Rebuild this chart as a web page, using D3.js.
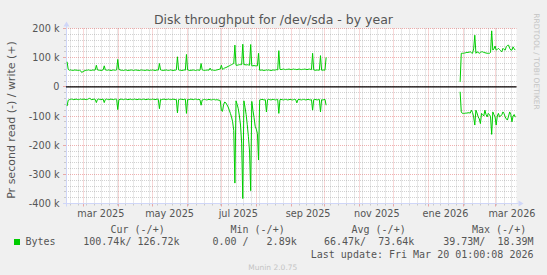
<!DOCTYPE html>
<html>
<head>
<meta charset="utf-8">
<script src="https://cdn.jsdelivr.net/npm/d3@7"></script>
<style>
  html, body { margin: 0; padding: 0; background: #f0f0f0; }
  svg { display: block; }
  text { font-family: "DejaVu Sans", sans-serif; fill: #555; }
  .mono { font-family: "DejaVu Sans Mono", monospace; font-size: 10px; white-space: pre; }
</style>
</head>
<body>
<svg id="chart" width="547" height="275"></svg>
<script>
// 400 day window ending at the last update
const graphStart = "2025-02-13T01:00:08Z";
const graphEnd = "2026-03-20T01:00:08Z";

// daily averages, k bytes per second (read is drawn below zero)
const block1Start = "2025-02-14";
const write1 = [86, 60,
  57, 58, 57, 56, 57, 58, 57, 57, 56, 57, 55,
  49,
  52, 54, 56, 57, 57, 58, 57, 56, 57, 58, 57, 58,
  74,
  58, 57, 57, 56, 57, 58,
  72,
  58, 57, 57, 58, 57, 56, 57, 58, 57, 57, 58,
  94,
  60, 58, 57, 57, 56, 57, 58, 57, 56, 57, 57, 58, 57, 56, 57, 58, 57, 57, 56, 57, 58, 57, 57, 56, 57, 58, 57, 56, 57, 57, 58, 57, 56, 57, 58, 57,
  80,
  58, 57, 56, 57, 57, 58, 57, 56, 57, 58, 57, 56, 57, 57, 58,
  103,
  58, 57, 57, 56, 57, 58, 57,
  111,
  58, 57, 56, 57, 57, 58, 57, 56, 57, 58, 57, 57,
  80,
  58, 57, 56, 57, 57, 58, 57, 64, 57, 58, 57, 56, 57, 58, 59, 60, 61,
  74,
  60, 62, 65, 66, 68, 70, 72, 74, 76, 78, 80,
  143,
  74, 74, 75, 76, 76, 76,
  146,
  76, 76, 75, 76, 75, 74,
  145,
  72, 72, 73, 72, 72, 72,
  115,
  57, 57, 58, 57, 56, 57, 58, 57, 58, 57, 56, 57, 58, 57, 58, 59, 58,
  124,
  60, 59, 60, 61, 60, 59, 60, 60, 61, 60, 59, 60, 61, 60, 60, 59, 60, 61, 60, 59, 60, 60, 61, 60, 59, 60, 61, 60, 59,
  115,
  58, 57, 57, 58, 57, 57,
  107,
  57, 57, 58, 57,
  101];
const read1 = [66, 46,
  44, 43, 42, 43, 44, 43, 42, 43, 44, 43, 42,
  43,
  43, 42, 43, 44, 43, 42, 38, 43, 44, 43, 42, 43,
  54,
  43, 42, 43, 44, 43, 42,
  54,
  43, 42, 43, 44, 43, 42, 43, 44, 43, 42, 43,
  78,
  44, 43, 42, 43, 44, 43, 42, 43, 44, 43, 42, 43, 44, 43, 42, 43, 44, 43, 42, 43, 44, 43, 42, 43, 44, 43, 42, 43, 44, 43, 42, 43, 44, 43, 42, 43,
  75,
  43, 44, 43, 42, 43, 44, 43, 42, 43, 44, 43, 42, 43, 44, 43,
  89,
  44, 43, 42, 43, 44, 43, 42,
  91,
  43, 44, 43, 42, 43, 44, 43, 42, 43, 44, 43, 44,
  63,
  45, 44, 43, 44, 45, 44, 43, 44, 45, 44, 43, 44, 45, 44, 45, 46, 47,
  81,
  84, 60, 52, 55, 62, 69, 80, 91, 103, 120, 150,
  330,
  48, 60, 75, 100, 131, 193,
  383,
  48, 70, 95, 130, 171, 220,
  356,
  50, 80, 105, 135, 145, 160,
  251,
  45, 44, 43, 44, 45, 44, 86, 44, 43, 44, 45, 44, 43, 44, 45, 44, 43,
  91,
  44, 43, 44, 45, 44, 43, 44, 45, 44, 43, 44, 45, 44, 43, 44, 55, 44, 43, 44, 45, 44, 43, 44, 45, 44, 43, 44, 45, 44,
  80,
  44, 43, 44, 45, 44, 43,
  86,
  44, 45, 44, 43,
  63];

const block2Start = "2026-01-29";
const write2 = [17, 115, 115, 115, 116, 117, 118, 118, 119, 120,
  117, 115, 130, 177, 115, 120, 118, 115, 118, 120,
  120, 118, 117, 116, 115, 115, 115, 118, 192, 126,
  130, 140, 126, 128, 132, 128, 124, 120, 132, 128,
  126, 138, 142, 143, 132, 126, 126, 137, 130, 126];
const read2 = [17, 86, 91, 91, 91, 90, 90, 89, 89, 90,
  80, 88, 103, 131, 80, 90, 103, 110, 126, 91,
  95, 100, 80, 95, 103, 91, 95, 103, 163, 86,
  95, 103, 131, 100, 91, 103, 100, 96, 86, 92,
  103, 110, 114, 100, 86, 95, 120, 100, 95, 104];

const yTicks = [200, 100, 0, -100, -200, -300, -400];
const labelMonths = ["2025-03-01", "2025-05-01", "2025-07-01", "2025-09-01", "2025-11-01", "2026-01-01", "2026-03-01"];
const monthLabels = ["mar 2025", "may 2025", "jul 2025", "sep 2025", "nov 2025", "ene 2026", "mar 2026"];

const legendHead = ["Cur (-/+)", "Min (-/+)", "Avg (-/+)", "Max (-/+)"];
const legendVals = ["100.74k/ 126.72k", "  0.00 /   2.89k", " 66.47k/  73.64k", " 39.73M/  18.39M"];

const svg = d3.select("#chart");
const pLeft = 66, pRight = 516.5, pTop = 28.5, pBottom = 203.5;

const x = d3.scaleUtc().domain([new Date(graphStart), new Date(graphEnd)]).range([pLeft, pRight]);
const y = d3.scaleLinear().domain([-400, 200]).range([pBottom, pTop]);
const snap = v => Math.floor(v) + 0.5;

svg.append("rect").attr("width", 547).attr("height", 275).attr("fill", "#f0f0f0");
svg.append("rect").attr("x", pLeft).attr("y", pTop).attr("width", pRight - pLeft).attr("height", pBottom - pTop).attr("fill", "#fff");

const minorCol = "rgba(143,143,143,0.4)", majorCol = "rgba(222,79,79,0.45)";
const grid = svg.append("g");

// horizontal grid
const yMinor = d3.range(-400, 201, 20).filter(v => v % 100 !== 0);
yMinor.forEach(v => {
    grid.append("line").attr("x1", pLeft).attr("x2", pRight).attr("y1", snap(y(v))).attr("y2", snap(y(v)))
        .attr("stroke", minorCol).attr("stroke-dasharray", "1,1");
    grid.append("line").attr("x1", pLeft - 2).attr("x2", pLeft).attr("y1", snap(y(v))).attr("y2", snap(y(v)))
        .attr("stroke", minorCol);
});
yTicks.forEach(v => {
    grid.append("line").attr("x1", pLeft).attr("x2", pRight).attr("y1", snap(y(v))).attr("y2", snap(y(v)))
        .attr("stroke", majorCol).attr("stroke-dasharray", "1,1");
    grid.append("line").attr("x1", pLeft - 3).attr("x2", pLeft).attr("y1", snap(y(v))).attr("y2", snap(y(v)))
        .attr("stroke", majorCol);
});

// vertical grid: weeks and months
const [t0, t1] = x.domain();
const months = d3.utcMonth.range(t0, t1);
const weeks = d3.utcMonday.range(t0, t1).filter(w => w.getUTCDate() !== 1);
weeks.forEach(w => {
    const px = snap(x(w));
    grid.append("line").attr("x1", px).attr("x2", px).attr("y1", pTop).attr("y2", pBottom)
        .attr("stroke", minorCol).attr("stroke-dasharray", "1,1");
    grid.append("line").attr("x1", px).attr("x2", px).attr("y1", pBottom).attr("y2", pBottom + 2)
        .attr("stroke", minorCol);
});
months.forEach(m => {
    const px = snap(x(m));
    grid.append("line").attr("x1", px).attr("x2", px).attr("y1", pTop).attr("y2", pBottom)
        .attr("stroke", majorCol).attr("stroke-dasharray", "1,1");
    grid.append("line").attr("x1", px).attr("x2", px).attr("y1", pBottom).attr("y2", pBottom + 3)
        .attr("stroke", majorCol);
});

// axes with arrows
const axisCol = "#CFD6F8";
svg.append("line").attr("x1", pLeft - 3).attr("x2", pRight + 2).attr("y1", pBottom).attr("y2", pBottom).attr("stroke", axisCol);
svg.append("line").attr("x1", pLeft + 0.5).attr("x2", pLeft + 0.5).attr("y1", pBottom + 3).attr("y2", pTop - 3).attr("stroke", axisCol);
svg.append("path").attr("d", `M${pRight + 2},${pBottom - 3}L${pRight + 7},${pBottom}L${pRight + 2},${pBottom + 3}Z`).attr("fill", axisCol);
svg.append("path").attr("d", `M${pLeft - 2.5},${pTop - 2}L${pLeft + 0.5},${pTop - 7}L${pLeft + 3.5},${pTop - 2}Z`).attr("fill", axisCol);

// tick labels
svg.selectAll(".ylab").data(yTicks).enter().append("text")
    .attr("x", 59.5).attr("y", d => y(d) + 3.5)
    .attr("text-anchor", "end").style("font-size", "9.7px")
    .text(d => d === 0 ? "0" : (d + " k"));

svg.selectAll(".xlab").data(labelMonths).enter().append("text")
    .attr("x", d => x(d3.utcDay.offset(new Date(d + "T00:00:00Z"), 15)))
    .attr("y", 216.5)
    .attr("text-anchor", "middle").style("font-size", "9.7px")
    .text((d, i) => monthLabels[i]);

// data
function toPoints(start, w, r) {
    const s = new Date(start + "T00:00:00Z");
    return w.map((v, i) => ({ t: d3.utcDay.offset(s, i), w: v, r: r[i] }));
}
const blocks = [toPoints(block1Start, write1, read1), toPoints(block2Start, write2, read2)];
const lineW = d3.line().x(d => x(d.t)).y(d => y(d.w));
const lineR = d3.line().x(d => x(d.t)).y(d => y(-d.r));
blocks.forEach(b => {
    svg.append("path").attr("d", lineW(b)).attr("fill", "none").attr("stroke", "#00CC00").attr("stroke-width", 1);
    svg.append("path").attr("d", lineR(b)).attr("fill", "none").attr("stroke", "#00CC00").attr("stroke-width", 1);
});

// zero line
svg.append("line").attr("x1", pLeft).attr("x2", pRight).attr("y1", y(0)).attr("y2", y(0))
    .attr("stroke", "#000").attr("stroke-width", 1.2);

// titles
svg.append("text").attr("x", 273.5).attr("y", 23.5).attr("text-anchor", "middle")
    .style("font-size", "12.5px").text("Disk throughput for /dev/sda - by year");

svg.append("text").attr("transform", "translate(14.5,120) rotate(-90)")
    .attr("text-anchor", "middle").style("font-size", "11px")
    .text("Pr second read (-) / write (+)");

svg.append("text").attr("transform", "translate(534,61.5) rotate(90)")
    .attr("text-anchor", "middle").style("font-size", "7.5px").style("fill", "#c4c4c4")
    .text("RRDTOOL / TOBI OETIKER");

// legend
const headX = [111, 231, 352, 472.5];
const valEnd = [179.6, 296.7, 414.3, 533.5];
legendHead.forEach((h, i) => {
    svg.append("text").attr("class", "mono").attr("x", headX[i] - 0.5).attr("y", 232.5).text(h);
});
svg.append("rect").attr("x", 14).attr("y", 239).attr("width", 6).attr("height", 6).attr("fill", "#00CC00");
svg.append("text").attr("class", "mono").attr("x", 25.5).attr("y", 245).text("Bytes");
legendVals.forEach((v, i) => {
    svg.append("text").attr("class", "mono").attr("x", valEnd[i]).attr("y", 245)
        .attr("text-anchor", "end").attr("xml:space", "preserve").text(v);
});
svg.append("text").attr("class", "mono").attr("x", 533.5).attr("y", 257.5)
    .attr("text-anchor", "end").text("Last update: Fri Mar 20 01:00:08 2026");

svg.append("text").attr("x", 272.8).attr("y", 269.5).attr("text-anchor", "middle")
    .style("font-size", "7.5px").style("fill", "#c4c4c4").text("Munin 2.0.75");
</script>
</body>
</html>
